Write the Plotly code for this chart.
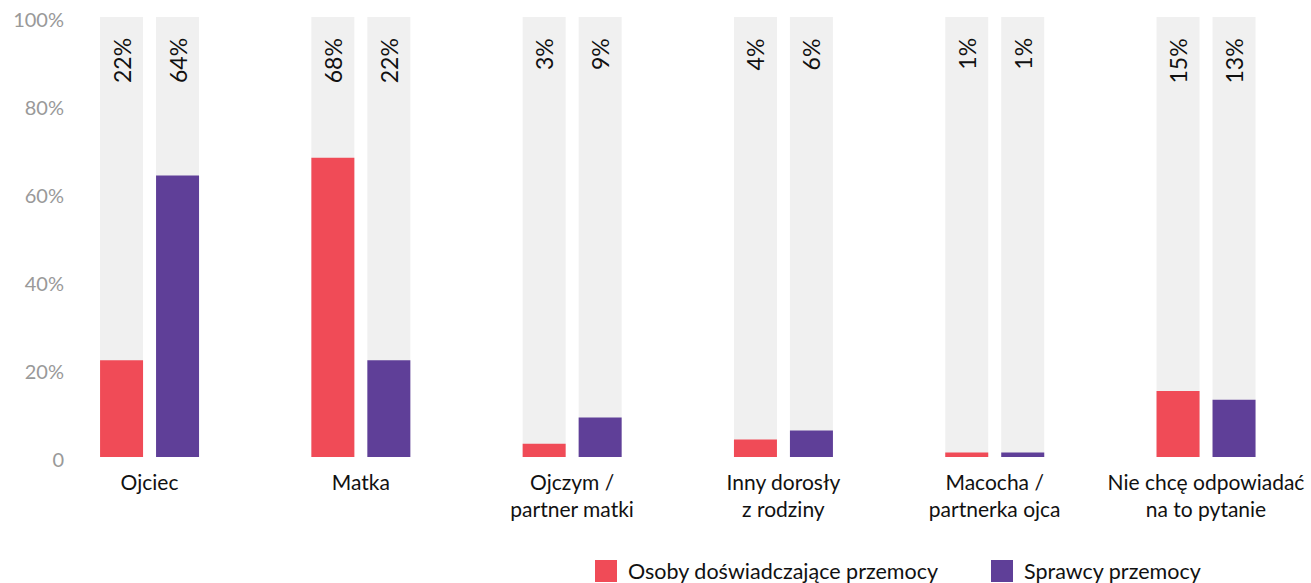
import plotly.graph_objects as go

categories = ["Ojciec", "Matka", "Ojczym /<br>partner matki", "Inny dorosły<br>z rodziny",
              "Macocha /<br>partnerka ojca", "Nie chcę odpowiadać<br>na to pytanie"]
victims = [22, 68, 3, 4, 1, 15]
perpetrators = [64, 22, 9, 6, 1, 13]
full = [100] * len(categories)
series_names = ["Osoby doświadczające przemocy", "Sprawcy przemocy"]

RED = "#f04b57"
PURPLE = "#5f3f98"
GREY = "#f0f0f0"
FONT = "Lato, 'Open Sans', sans-serif"

bar_w = 0.2035
off_red = -0.234
off_purple = 0.031

fig = go.Figure()

# grey background bars
for off in [off_red, off_purple]:
    fig.add_trace(go.Bar(x=categories, y=full, width=bar_w, offset=off,
                         marker=dict(color=GREY, line=dict(width=0)),
                         showlegend=False, hoverinfo="skip"))

fig.add_trace(go.Bar(x=categories, y=victims, width=bar_w, offset=off_red,
                     marker=dict(color=RED, line=dict(width=0)), name=series_names[0]))
fig.add_trace(go.Bar(x=categories, y=perpetrators, width=bar_w, offset=off_purple,
                     marker=dict(color=PURPLE, line=dict(width=0)), name=series_names[1]))

# rotated value labels at the top of the grey bars
for vals, shift in [(victims, -28), (perpetrators, 28)]:
    for c, v in zip(categories, vals):
        fig.add_annotation(x=c, y=100, xref="x", yref="y", text=f"{v}%",
                           textangle=-90, showarrow=False, yanchor="top",
                           xshift=shift, yshift=-19,
                           font=dict(family=FONT, size=23, color="#111111"))

# legend drawn by hand (large square swatches)
legend_items = [(series_names[0], RED, 595), (series_names[1], PURPLE, 991)]
for name, col, px in legend_items:
    fig.add_shape(type="rect", xref="paper", yref="paper",
                  x0=(px - 75) / 1236, x1=(px + 22 - 75) / 1236,
                  y0=(457 - 582) / 440, y1=(457 - 560) / 440,
                  fillcolor=col, line=dict(width=0))
    fig.add_annotation(xref="paper", yref="paper", x=(px + 31 - 75) / 1236, y=(457 - 571) / 440,
                       xanchor="left", yanchor="middle", text=name, showarrow=False,
                       font=dict(family=FONT, size=21.5, color="#111111"))

fig.update_layout(
    barmode="overlay",
    width=1311, height=583,
    margin=dict(l=75, r=0, t=17, b=126),
    plot_bgcolor="white", paper_bgcolor="white",
    showlegend=False,
    font=dict(family=FONT, size=18, color="#111111"),
    xaxis=dict(range=[-0.3526, 5.497], showgrid=False, zeroline=False, showline=False,
               ticks="", automargin=False, ticklabelstandoff=11, ticklabeloverflow="allow",
               tickfont=dict(size=21, color="#111111")),
    yaxis=dict(range=[0, 100], showgrid=False, zeroline=False, showline=False,
               automargin=False, ticklabeloverflow="allow", ticklabelshift=3,
               tickvals=[0, 20, 40, 60, 80, 100],
               ticktext=["0", "20%", "40%", "60%", "80%", "100%"],
               tickfont=dict(size=20, color="#999999"), ticklabelstandoff=10),
)

# drop the default 8px page margin so the figure fills the window exactly
fig.write_html("out.html", config={"displayModeBar": False},
               post_script="document.body.style.margin='0';")
